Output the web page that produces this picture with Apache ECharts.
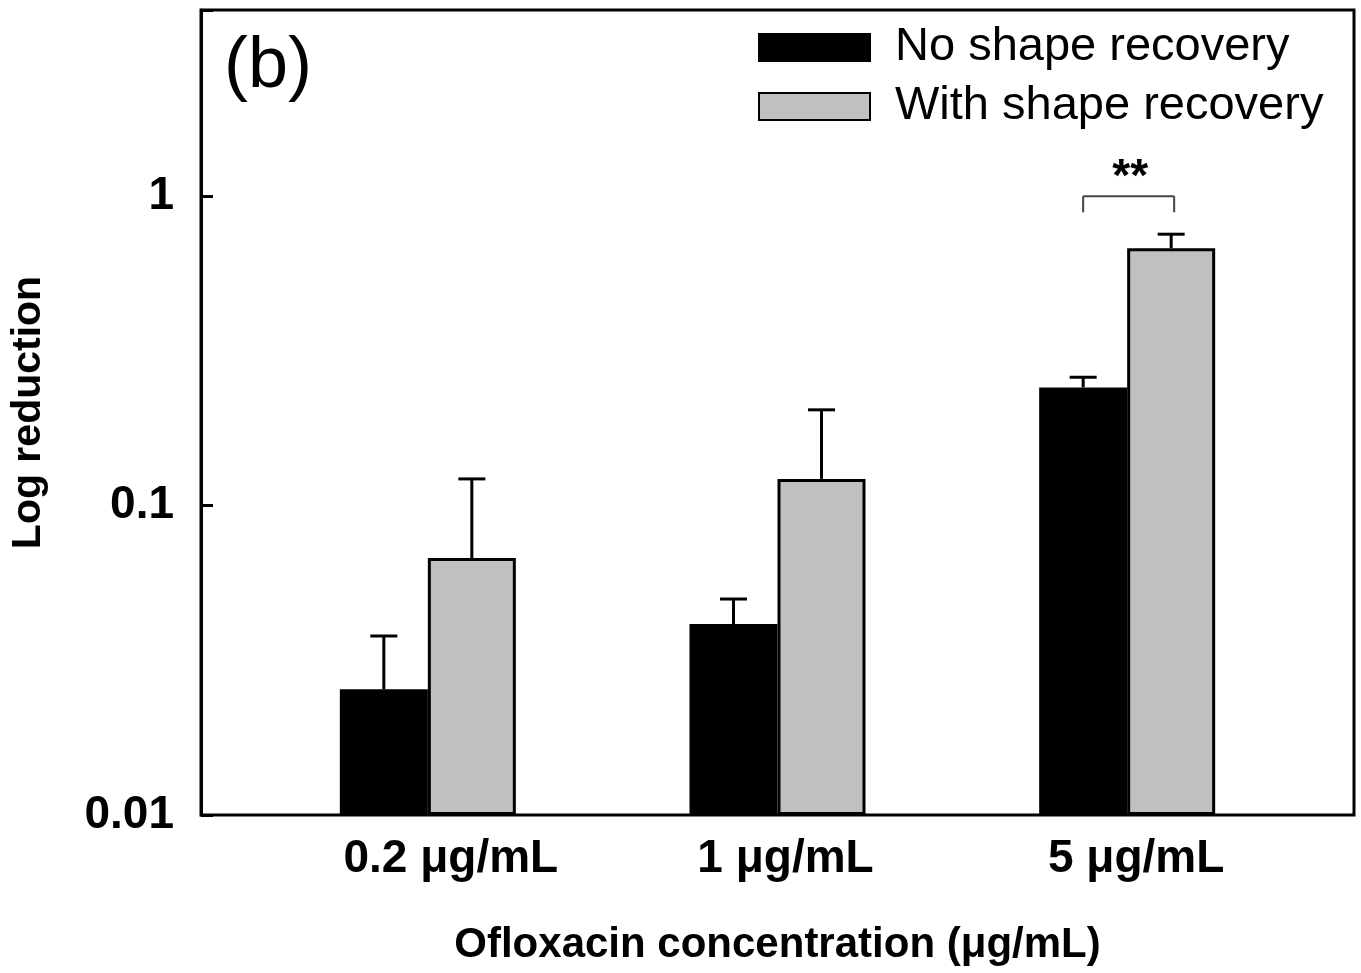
<!DOCTYPE html>
<html><head><meta charset="utf-8">
<script src="https://cdn.jsdelivr.net/npm/echarts@6/dist/echarts.min.js"></script>
<style>html,body{margin:0;padding:0;background:#fff}#c{width:1361px;height:973px}</style>
</head><body><div id="c"></div>
<script>
// ---- data ----
const categories = ['0.2 μg/mL', '1 μg/mL', '5 μg/mL'];
const seriesNames = ['No shape recovery', 'With shape recovery'];
const noRecovery = [0.0255, 0.0414, 0.241];
const noRecoveryUpper = [0.0379, 0.0499, 0.260];
const withRecovery = [0.0677, 0.122, 0.679];
const withRecoveryUpper = [0.122, 0.204, 0.754];
const yTicks = [0.01, 0.1, 1];
const yTickLabels = ['0.01', '0.1', '1'];
const yMin = 0.01, yMax = 4;
const sigCategory = 2;
const sigValue = 1.0;
const sigLabel = '**';
const panelLabel = '(b)';
const xTitle = 'Ofloxacin concentration (μg/mL)';
const yTitle = 'Log reduction';

// ---- style ----
const FONT = '"Liberation Sans", Arial, Helvetica, sans-serif';
const BAR_W = 88;
const labelShift = [46, 16, 18];

const chart = echarts.init(document.getElementById('c'), null, {renderer: 'canvas'});

function errorBarSeries(means, uppers, side) {
  return {
    type: 'custom', xAxisIndex: 1, yAxisIndex: 1, z: 5, silent: true,
    data: means.map((m, i) => [i, m, uppers[i]]),
    encode: {x: 0, y: [1, 2]},
    renderItem: function (params, api) {
      const b = api.coord([api.value(0), api.value(1)]);
      const t = api.coord([api.value(0), api.value(2)]);
      const x = b[0] + side * BAR_W / 2;
      const st = {stroke: '#000', lineWidth: 3};
      return {type: 'group', children: [
        {type: 'line', shape: {x1: x, y1: b[1], x2: x, y2: t[1]}, style: st},
        {type: 'line', shape: {x1: x - 13.5, y1: t[1], x2: x + 13.5, y2: t[1]}, style: st}
      ]};
    }
  };
}

const option = {
  backgroundColor: '#fff',
  animation: false,
  grid: [
    {left: 201, top: 10, right: 7, bottom: 158, show: true, borderColor: '#000', borderWidth: 3, backgroundColor: 'transparent'},
    {left: 253, top: 10, width: 1049, bottom: 158}
  ],
  legend: {
    orient: 'vertical', left: 758, top: 24, padding: 0, itemWidth: 111, itemHeight: 27, itemGap: 12,
    icon: 'rect', selectedMode: false,
    data: seriesNames,
    formatter: n => '{a|' + n + '}',
    textStyle: {color: '#000', fontFamily: FONT, fontSize: 47,
      rich: {a: {fontFamily: FONT, fontSize: 47, color: '#000', padding: [0, 0, 0, 20]}}}
  },
  graphic: [{
    type: 'text', x: 224, y: 67, z: 10,
    style: {text: panelLabel, font: '72px ' + FONT, fill: '#000', textAlign: 'left', textVerticalAlign: 'middle', verticalAlign: 'middle'}
  }],
  xAxis: [
    {gridIndex: 0, type: 'value', min: 0, max: 1, show: false},
    {gridIndex: 1, type: 'category', data: categories,
      axisLine: {show: false}, axisTick: {show: false}, splitLine: {show: false},
      axisLabel: {
        interval: 0, hideOverlap: false,
        margin: 21, color: '#000', fontFamily: FONT, fontWeight: 'bold', fontSize: 46,
        formatter: (v, i) => '{p' + i + '|' + v + '}',
        rich: {
          p0: {fontFamily: FONT, fontWeight: 'bold', fontSize: 46, color: '#000', padding: [0, 0, 0, labelShift[0]]},
          p1: {fontFamily: FONT, fontWeight: 'bold', fontSize: 46, color: '#000', padding: [0, 0, 0, labelShift[1]]},
          p2: {fontFamily: FONT, fontWeight: 'bold', fontSize: 46, color: '#000', padding: [0, 0, 0, labelShift[2]]}
        }
      },
      name: xTitle, nameLocation: 'middle', nameGap: 109,
      nameTextStyle: {color: '#000', fontFamily: FONT, fontWeight: 'bold', fontSize: 42}
    }
  ],
  yAxis: [
    {gridIndex: 0, type: 'log', logBase: 10, min: yMin, max: yMax,
      axisLine: {show: true, lineStyle: {color: '#000', width: 3}},
      axisTick: {show: true, inside: true, length: 12, lineStyle: {color: '#000', width: 3}},
      minorTick: {show: false},
      splitLine: {show: false},
      axisLabel: {
        margin: 27, color: '#000', fontFamily: FONT, fontWeight: 'bold', fontSize: 46,
        formatter: function (v) {
          for (let i = 0; i < yTicks.length; i++) {
            if (Math.abs(Math.log10(v) - Math.log10(yTicks[i])) < 1e-6) return yTickLabels[i];
          }
          return '';
        }
      },
      name: yTitle, nameLocation: 'middle', nameGap: 152,
      nameTextStyle: {color: '#000', fontFamily: FONT, fontWeight: 'bold', fontSize: 41}
    },
    {gridIndex: 1, type: 'log', logBase: 10, min: yMin, max: yMax, startValue: yMin, show: false, splitLine: {show: false}}
  ],
  series: [
    {name: seriesNames[0], type: 'bar', xAxisIndex: 1, yAxisIndex: 1, data: noRecovery,
      barWidth: BAR_W, barGap: '0%', z: 3,
      itemStyle: {color: '#000', borderColor: '#000', borderWidth: 3}},
    {name: seriesNames[1], type: 'bar', xAxisIndex: 1, yAxisIndex: 1, data: withRecovery,
      barWidth: BAR_W, barGap: '0%', z: 3,
      itemStyle: {color: '#c0c0c0', borderColor: '#000', borderWidth: 3}},
    errorBarSeries(noRecovery, noRecoveryUpper, -1),
    errorBarSeries(withRecovery, withRecoveryUpper, 1),
    {
      type: 'custom', xAxisIndex: 1, yAxisIndex: 1, z: 6, silent: true,
      data: [[sigCategory, sigValue]],
      encode: {x: 0, y: 1},
      renderItem: function (params, api) {
        const c = api.coord([api.value(0), api.value(1)]);
        const x1 = c[0] - 44, x2 = c[0] + 47, y = c[1];
        const st = {stroke: '#444', lineWidth: 2};
        return {type: 'group', children: [
          {type: 'line', shape: {x1: x1, y1: y, x2: x2, y2: y}, style: st},
          {type: 'line', shape: {x1: x1, y1: y, x2: x1, y2: y + 16}, style: st},
          {type: 'line', shape: {x1: x2, y1: y, x2: x2, y2: y + 16}, style: st},
          {type: 'text', x: c[0] + 3, y: y - 18,
            style: {text: sigLabel, font: 'bold 46px ' + FONT, fill: '#000', textAlign: 'center', textVerticalAlign: 'middle', verticalAlign: 'middle'}}
        ]};
      }
    }
  ]
};
chart.setOption(option);
</script></body></html>
